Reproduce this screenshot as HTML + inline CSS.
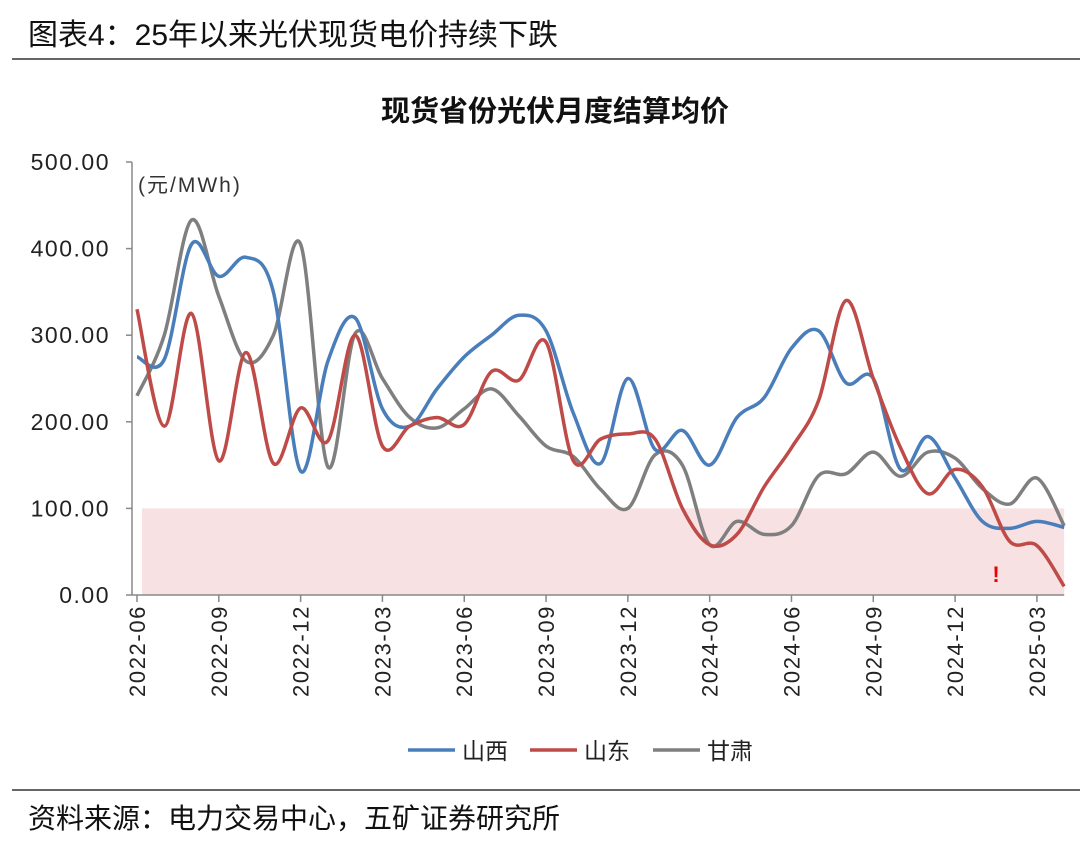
<!DOCTYPE html>
<html><head><meta charset="utf-8"><style>
body{margin:0;background:#fff;}
svg text{font-family:"Liberation Sans","Noto Sans CJK SC",sans-serif;}
</style></head><body>
<svg width="1080" height="847" viewBox="0 0 1080 847">
<text x="28" y="45" font-size="30" fill="#111">图表4：25年以来光伏现货电价持续下跌</text>
<line x1="12" y1="59" x2="1080" y2="59" stroke="#333" stroke-width="1.5"/>
<text x="555" y="121" font-size="29" font-weight="bold" text-anchor="middle" fill="#111">现货省份光伏月度结算均价</text>
<g id="plot"></g>
<text x="138" y="192" font-size="21" letter-spacing="2" fill="#333">(元/MWh)</text>
<text x="996" y="582" font-size="22" font-weight="bold" fill="#e00" text-anchor="middle">!</text>
<g>
<line x1="408" y1="750" x2="455" y2="750" stroke="#4a7ebb" stroke-width="3.5"/>
<text x="462" y="759" font-size="23" fill="#222">山西</text>
<line x1="530" y1="750" x2="577" y2="750" stroke="#be4b48" stroke-width="3.5"/>
<text x="584" y="759" font-size="23" fill="#222">山东</text>
<line x1="653" y1="750" x2="700" y2="750" stroke="#7f7f7f" stroke-width="3.5"/>
<text x="707" y="759" font-size="23" fill="#222">甘肃</text>
</g>
<line x1="12" y1="790" x2="1080" y2="790" stroke="#333" stroke-width="1.5"/>
<text x="28" y="828" font-size="28" fill="#111">资料来源：电力交易中心，五矿证券研究所</text>
</svg>
<script>
const months=["2022-06","2022-07","2022-08","2022-09","2022-10","2022-11","2022-12","2023-01","2023-02","2023-03","2023-04","2023-05","2023-06","2023-07","2023-08","2023-09","2023-10","2023-11","2023-12","2024-01","2024-02","2024-03","2024-04","2024-05","2024-06","2024-07","2024-08","2024-09","2024-10","2024-11","2024-12","2025-01","2025-02","2025-03","2025-04"];
const shanxi=[275,272,405,368,390,350,143,270,320,215,195,238,275,300,323,305,210,152,250,168,190,150,205,228,285,305,245,250,145,183,135,85,77,85,78];
const shandong=[330,195,325,155,280,152,216,178,300,172,195,205,197,258,248,292,155,180,186,180,100,58,70,125,170,225,340,250,170,117,145,125,62,57,10];
const gansu=[230,300,433,345,270,300,405,148,302,250,205,193,215,238,207,172,160,122,100,162,150,58,85,70,80,138,140,165,137,165,158,123,105,135,80];
const yTicks=[0,100,200,300,400,500];
const xTickLabels=["2022-06","2022-09","2022-12","2023-03","2023-06","2023-09","2023-12","2024-03","2024-06","2024-09","2024-12","2025-03"];
const shadeMax=100;
const NS="http://www.w3.org/2000/svg";
const g=document.getElementById('plot');
const x0=137,dx=27.27,y0=595,ky=0.866;
const X=i=>x0+dx*i, Y=v=>y0-v*ky;
function el(t,a){const e=document.createElementNS(NS,t);for(const k in a)e.setAttribute(k,a[k]);g.appendChild(e);return e;}
const shade=el('rect',{x:142,y:Y(shadeMax),width:X(months.length-1)-142,height:y0-Y(shadeMax),fill:'#f7e1e2'});


const ax=el('line',{x1:132,y1:162,x2:132,y2:y0,stroke:'#888','stroke-width':1.5});


const bx=el('line',{x1:132,y1:y0,x2:X(months.length-1),y2:y0,stroke:'#888','stroke-width':1.5});


yTicks.forEach(v=>{
 el('line',{x1:126,y1:Y(v),x2:132,y2:Y(v),stroke:'#888','stroke-width':1.5});
 const t=el('text',{x:110,y:Y(v)+8,'font-size':23,'letter-spacing':1.5,'text-anchor':'end',fill:'#222'});
 t.textContent=v.toFixed(2);
 
 
});
xTickLabels.forEach(lbl=>{
 const i=months.indexOf(lbl);const x=X(i);
 el('line',{x1:x,y1:y0,x2:x,y2:y0+7,stroke:'#888','stroke-width':1.5});
 const t=el('text',{x:0,y:0,'font-size':22,'letter-spacing':1.6,'text-anchor':'end',fill:'#222',transform:`translate(${x+8},${y0+10}) rotate(-90)`});
 t.textContent=lbl;
 
 
});
function path(vals){
 const p=vals.map((v,i)=>[X(i),Y(v)]);
 let d=`M${p[0][0]},${p[0][1]}`;
 for(let i=0;i<p.length-1;i++){
  const a=p[Math.max(0,i-1)],b=p[i],c=p[i+1],e=p[Math.min(p.length-1,i+2)];
  const c1=[b[0]+(c[0]-a[0])/6,b[1]+(c[1]-a[1])/6],c2=[c[0]-(e[0]-b[0])/6,c[1]-(e[1]-b[1])/6];
  d+=`C${c1[0]},${c1[1]} ${c2[0]},${c2[1]} ${c[0]},${c[1]}`;
 }
 return d;
}
[[gansu,'#7f7f7f','line-gansu'],[shanxi,'#4a7ebb','line-shanxi'],[shandong,'#be4b48','line-shandong']].forEach(([vals,c,n])=>{
 const l=el('path',{d:path(vals),fill:'none',stroke:c,'stroke-width':3.5,'stroke-linejoin':'round'});
 
 
});
</script>
</body></html>
